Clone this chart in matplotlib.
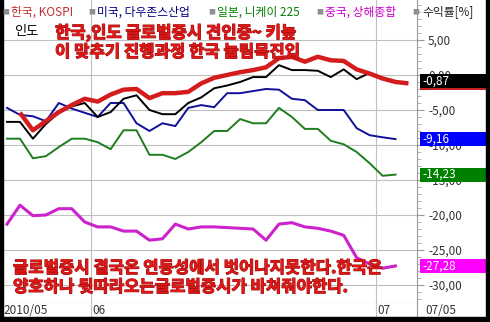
import matplotlib
matplotlib.use('Agg')
import matplotlib.pyplot as plt
import matplotlib.patheffects as pe
import numpy as np
import pandas as pd
from matplotlib.patches import Rectangle
from matplotlib.transforms import blended_transform_factory
from matplotlib.ticker import MultipleLocator

plt.rcParams['font.family'] = ['Noto Sans CJK KR', 'DejaVu Sans']

# trading days shown on the chart (2010/05/21 .. 2010/07/05)
dates = pd.bdate_range('2010-05-21', '2010-07-05')
nan = np.nan

# cumulative return [%]
kospi = [nan, -5.4, -7.9, -6.6, -5.3, -4.3, -3.4, -3.8, -2.8, -2.1, -2.0, -3.3, -2.6, -2.6, -2.4, -1.2,
         -0.4, 0.0, 0.4, 0.7, 1.1, 2.4, 2.6, 1.9, 2.6, 2.1, 2.0, 0.8, 0.2, -0.5, -1.0, -1.2]
india = [-6.7, -6.7, -9.1, -7.0, -5.4, -4.5, -4.0, -6.0, -5.3, -3.4, -2.9, -5.0, -5.6, -5.6, -4.0, -3.2,
         -1.9, -1.5, -1.0, -0.3, -0.3, 1.4, 0.7, 0.7, 0.6, -0.3, 0.8, -0.6, 0.3, -0.4, -0.87, nan]
dow = [-4.7, -5.7, -5.9, -6.6, -4.0, -4.8, -5.4, -6.0, -4.0, -4.0, -6.9, -8.0, -6.9, -7.3, -4.7, -4.3,
       -4.6, -2.6, -2.6, -2.3, -2.0, -2.1, -3.4, -3.6, -5.0, -5.0, -5.0, -7.6, -8.6, -8.9, -9.16, nan]
nikkei = [-9.1, -9.1, -11.9, -11.6, -10.3, -9.1, -9.1, -9.6, -10.6, -7.9, -7.9, -11.4, -11.4, -12.0, -11.0, -9.6,
          -8.0, -8.0, -6.3, -6.9, -6.9, -4.7, -6.0, -7.7, -7.7, -9.4, -9.9, -11.0, -12.6, -14.4, -14.23, nan]
shanghai = [-21.3, -18.6, -20.1, -20.0, -19.1, -19.1, -21.0, -21.7, -21.7, -22.3, -22.3, -23.6, -23.4, -21.3, -22.0, -21.7,
            -21.7, -21.8, -21.9, -22.0, -23.6, -21.3, -21.1, -21.7, -21.9, -22.3, -22.9, -26.1, -27.0, -27.6, -27.28, nan]

legend_names = ['한국, KOSPI', '미국, 다우존스산업', '일본, 니케이 225', '중국, 상해종합']
yticks = [5, 0, -5, -10, -15, -20, -25, -30]

W, H = 490, 322
def fx(px):
    return px / W
def fy(py):
    return 1 - py / H

fig = plt.figure(figsize=(4.9, 3.22), dpi=100)
fig.patch.set_facecolor('white')

ax = fig.add_axes([fx(3), fy(303), fx(417) - fx(3), fy(0) - fy(303)])
xs = np.arange(len(dates))
ax.set_xlim(-0.31, 31.66)
ax.set_ylim(-32.57, 10.71)

ax.plot(xs, nikkei, color='#1e7d1e', lw=1.4, zorder=3)
ax.plot(xs, dow, color='#10109a', lw=1.4, zorder=3)
ax.plot(xs, india, color='black', lw=1.4, zorder=3)
ax.plot(xs, shanghai, color='#cc22cc', lw=2.2, zorder=3)
ax.plot(xs, kospi, color='#d41c1c', lw=3.2, zorder=4, solid_capstyle='butt')

# month boundaries
month_starts = [i for i in range(1, len(dates)) if dates[i].month != dates[i - 1].month]
for i in month_starts:
    ax.axvline(i - 0.5, color='#c0c0c0', lw=0.8, zorder=1)

ax.set_yticks(yticks)
ax.set_yticklabels([f'{v:.2f}'.replace('.', ',') for v in yticks])
ax.yaxis.set_minor_locator(MultipleLocator(1))
ax.yaxis.tick_right()
ax.tick_params(axis='y', which='major', length=5, color='#999999', labelsize=8.5,
               labelcolor='#333333', pad=3)
ax.tick_params(axis='y', which='minor', length=3, color='#aaaaaa')
ax.set_xticks([])
ax.grid(axis='y', which='major', color='#c0c0c0', lw=0.8, zorder=1)
for s in ['top', 'left']:
    ax.spines[s].set_visible(False)
for s in ['right', 'bottom']:
    ax.spines[s].set_color('#999999')

# date row
axd = fig.add_axes([fx(3), fy(317), fx(417) - fx(3), fy(303) - fy(317)])
axd.set_xlim(ax.get_xlim())
axd.set_ylim(0, 1)
axd.set_xticks([])
axd.set_yticks([])
for s in ['top', 'left']:
    axd.spines[s].set_visible(False)
for s in ['right', 'bottom']:
    axd.spines[s].set_color('#999999')
axd.text(-0.3, 0.45, f'{dates[0]:%Y/%m}', fontsize=8.5, color='#333333', va='center', ha='left')
for i in month_starts:
    axd.axvline(i - 0.5, color='#c0c0c0', lw=0.8)
    axd.text(i - 0.4, 0.45, f'{dates[i]:%m}', fontsize=8.5, color='#333333', va='center', ha='left')
fig.text(fx(425), fy(311), f'{dates[-1]:%m/%d}', fontsize=8.5, color='#333333', va='center', ha='left')

# last value boxes
tr = blended_transform_factory(fig.transFigure, ax.transData)
boxes = [(kospi, '#c82020'), (india, 'black'), (dow, '#0000ff'), (nikkei, '#008000'), (shanghai, '#ff00ff')]
for k, (ser, col) in enumerate(boxes):
    arr = np.array(ser, dtype=float)
    v = arr[~np.isnan(arr)][-1]
    ax.add_patch(Rectangle((fx(420), v - 1.0), fx(487) - fx(420), 2.0, transform=tr,
                           facecolor=col, edgecolor='none', clip_on=False, zorder=10 + k))
    if ser is not kospi:
        ax.text(fx(422), v, f'{v:.2f}'.replace('.', ','), transform=tr, color='white',
                fontsize=8.5, va='center', ha='left', zorder=20 + k, clip_on=False)

# legend row
leg_x = [11, 97, 217, 325]
sq_x = [2, 88, 208, 316, 412]
leg_cols = ['#c03030', '#000080', '#008000', '#cc00cc']
for x in sq_x:
    fig.text(fx(x), fy(12), '■', fontsize=5, color='#909090', va='center', ha='left')
for x, name, c in zip(leg_x, legend_names, leg_cols):
    fig.text(fx(x), fy(12), name, fontsize=8.5, color=c, va='center', ha='left')
fig.text(fx(422), fy(12), '수익률[%]', fontsize=8.5, color='#222222', va='center', ha='left')
fig.text(fx(14), fy(31), '인도', fontsize=9.5, color='black', va='center', ha='left')

# comments on the chart
red = '#e01818'
fx_red = [pe.withStroke(linewidth=0.8, foreground='#a01010')]
fig.text(fx(55), fy(33), '한국,인도 글로벌증시 견인중~ 키높', fontsize=12, fontweight='bold', color=red,
         va='center', path_effects=fx_red)
fig.text(fx(55), fy(52), '이 맞추기 진행과정 한국 눌림목진입', fontsize=12, fontweight='bold', color=red,
         va='center', path_effects=fx_red)
fig.text(fx(13), fy(268), '글로벌증시 결국은 연동성에서 벗어나지못한다.한국은', fontsize=12, fontweight='bold',
         color=red, va='center', path_effects=fx_red)
fig.text(fx(13), fy(287), '양호하나 뒷따라오는글로벌증시가 바쳐줘야한다.', fontsize=12, fontweight='bold',
         color=red, va='center', path_effects=fx_red)

# frame
fig.add_artist(Rectangle((0, 0), fx(3), 1, transform=fig.transFigure, color='black'))
fig.add_artist(Rectangle((fx(486), 0), fx(4), 1, transform=fig.transFigure, color='black'))
fig.add_artist(Rectangle((0, 0), 1, 5 / H, transform=fig.transFigure, color='black'))

fig.savefig('out.png', dpi=100)
